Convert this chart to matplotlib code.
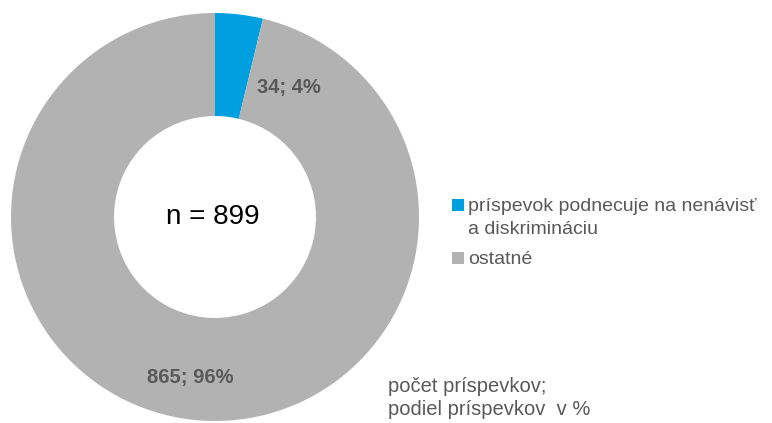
import matplotlib.pyplot as plt
from matplotlib.patches import Rectangle

plt.rcParams['font.family'] = ['Liberation Sans', 'DejaVu Sans']

categories = ['príspevok podnecuje na nenávisť\na diskrimináciu', 'ostatné']
counts = [34, 865]
shares = [4, 96]
colors = ['#00A0E0', '#B2B2B2']
text_color = '#595959'

W, H = 772, 423
fig = plt.figure(figsize=(W / 100, H / 100), dpi=100)
ax = fig.add_axes([11 / W, 2 / H, 408 / W, 408 / H])

wedges, _ = ax.pie(counts, colors=colors, startangle=90, counterclock=False,
                   radius=1.0, wedgeprops=dict(width=0.505, linewidth=0))
ax.set_xlim(-1, 1)
ax.set_ylim(-1, 1)
ax.set_aspect('equal')
ax.axis('off')

label_pos = [(0.363, 0.637), (-0.123, -0.789)]
for (x, y), c, s in zip(label_pos, counts, shares):
    ax.text(x, y, '{}; {}%'.format(c, s), ha='center', va='center',
            fontsize=14.5, fontweight='bold', color=text_color)

ax.text(-0.01, 0, 'n = 899', ha='center', va='center', fontsize=20, color='black')

# legend drawn by hand: square aligned with the first text line
legend_rows = [205, 258]
for row_y, label, col in zip(legend_rows, categories, colors):
    fig.patches.append(Rectangle((452 / W, 1 - (row_y + 6) / H), 12 / W, 12 / H,
                                 transform=fig.transFigure, color=col, lw=0))
    fig.text(468 / W, 1 - (row_y - 7) / H, label, ha='left', va='top',
             fontsize=14.0, color=text_color, linespacing=1.45)

fig.text(388 / W, 1 - 398 / H, 'počet príspevkov;\npodiel príspevkov  v %',
         ha='left', va='center', fontsize=14.5, color=text_color, linespacing=1.3)

fig.savefig('out.png', dpi=100)
